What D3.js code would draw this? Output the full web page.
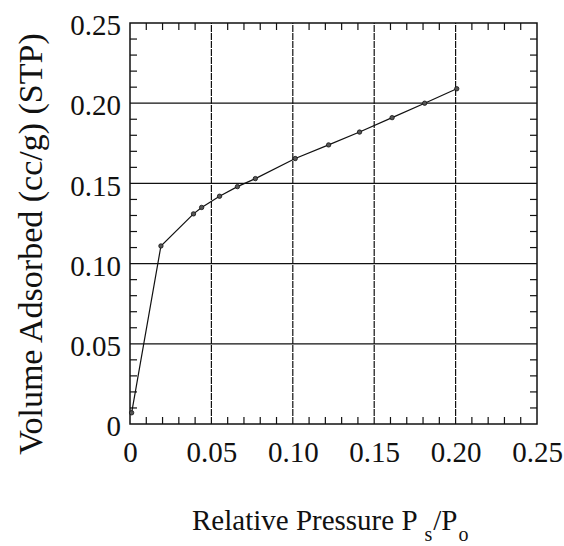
<!DOCTYPE html>
<html><head><meta charset="utf-8">
<script src="https://cdn.jsdelivr.net/npm/d3@7"></script>
<style>body{margin:0;background:#fff}svg{display:block}</style>
</head><body>
<script>
const pressure = [0.001, 0.019, 0.039, 0.044, 0.055, 0.066, 0.077, 0.1015, 0.122, 0.141, 0.161, 0.181, 0.2007];
const volume   = [0.007, 0.111, 0.131, 0.135, 0.142, 0.148, 0.153, 0.1655, 0.174, 0.182, 0.191, 0.200, 0.209];
const xTicks = [0, 0.05, 0.10, 0.15, 0.20, 0.25];
const xTickLabels = ["0", "0.05", "0.10", "0.15", "0.20", "0.25"];
const yTicks = [0, 0.05, 0.10, 0.15, 0.20, 0.25];
const yTickLabels = ["0", "0.05", "0.10", "0.15", "0.20", "0.25"];
const minorTicks = d3.range(0, 0.2501, 0.01);

const W = 564, H = 546;
const m = {left:130, top:23, right:27, bottom:122};
const svg = d3.select("body").append("svg").attr("width", W).attr("height", H);
const x = d3.scaleLinear().domain([0, 0.25]).range([m.left, W - m.right]);
const y = d3.scaleLinear().domain([0, 0.25]).range([H - m.bottom, m.top]);
const font = "'Liberation Serif', 'Times New Roman', serif";

// grid
svg.append("g").selectAll("line").data(yTicks.slice(1, -1)).join("line")
  .attr("x1", x(0)).attr("x2", x(0.25)).attr("y1", d => y(d)).attr("y2", d => y(d))
  .attr("stroke", "#111").attr("stroke-width", 1.2);
svg.append("g").selectAll("line").data(xTicks.slice(1, -1)).join("line")
  .attr("y1", y(0)).attr("y2", y(0.25)).attr("x1", d => x(d)).attr("x2", d => x(d))
  .attr("stroke", "#111").attr("stroke-width", 1.2).attr("stroke-dasharray", "7,1");

// minor ticks (inward) on all four sides
const tl = 7;
const mt = minorTicks.filter(v => Math.round(v * 100) % 5 !== 0);
const tg = svg.append("g").attr("stroke", "#111").attr("stroke-width", 1.2);
tg.selectAll(".b").data(mt).join("line").attr("x1", d => x(d)).attr("x2", d => x(d)).attr("y1", y(0)).attr("y2", y(0) - tl);
tg.selectAll(".t").data(mt).join("line").attr("x1", d => x(d)).attr("x2", d => x(d)).attr("y1", y(0.25)).attr("y2", y(0.25) + tl);
tg.selectAll(".l").data(mt).join("line").attr("y1", d => y(d)).attr("y2", d => y(d)).attr("x1", x(0)).attr("x2", x(0) + tl);
tg.selectAll(".r").data(mt).join("line").attr("y1", d => y(d)).attr("y2", d => y(d)).attr("x1", x(0.25)).attr("x2", x(0.25) - tl);

// frame
svg.append("rect").attr("x", x(0)).attr("y", y(0.25)).attr("width", x(0.25) - x(0)).attr("height", y(0) - y(0.25))
  .attr("fill", "none").attr("stroke", "#111").attr("stroke-width", 1.5);

// tick labels via d3 axes
const xAxis = d3.axisBottom(x).tickValues(xTicks).tickFormat((d, i) => xTickLabels[i]).tickSize(0).tickPadding(17);
const gx = svg.append("g").attr("transform", `translate(0,${y(0)})`).call(xAxis);
gx.select(".domain").remove();
gx.selectAll("text").attr("font-family", font).attr("font-size", 29).attr("fill", "#111");

const yAxis = d3.axisLeft(y).tickValues(yTicks).tickFormat((d, i) => yTickLabels[i]).tickSize(0).tickPadding(9);
const gy = svg.append("g").attr("transform", `translate(${x(0)},0)`).call(yAxis);
gy.select(".domain").remove();
gy.selectAll("text").attr("font-family", font).attr("font-size", 29).attr("fill", "#111").attr("dy", "0.4em");

// data line + markers
const pts = pressure.map((p, i) => [p, volume[i]]);
svg.append("path").datum(pts)
  .attr("d", d3.line().x(d => x(d[0])).y(d => y(d[1])))
  .attr("fill", "none").attr("stroke", "#111").attr("stroke-width", 1.2);
svg.append("g").selectAll("circle").data(pts).join("circle")
  .attr("cx", d => x(d[0])).attr("cy", d => y(d[1])).attr("r", 2.2)
  .attr("fill", "#555").attr("stroke", "#111").attr("stroke-width", 0.8);

// axis titles
svg.append("text").attr("transform", "translate(42,244) rotate(-90)")
  .attr("text-anchor", "middle").attr("font-family", font).attr("font-size", 34).attr("fill", "#111")
  .text("Volume Adsorbed (cc/g) (STP)");

const xt = svg.append("text").attr("x", 192).attr("y", 530)
  .attr("font-family", font).attr("font-size", 29).attr("fill", "#111");
xt.append("tspan").text("Relative Pressure P");
xt.append("tspan").attr("dy", 11).attr("dx", 7).attr("font-size", 20).text("s");
xt.append("tspan").attr("dy", -11).attr("dx", 1).text("/P");
xt.append("tspan").attr("dy", 11).attr("dx", 1).attr("font-size", 20).text("o");
</script>
</body></html>
